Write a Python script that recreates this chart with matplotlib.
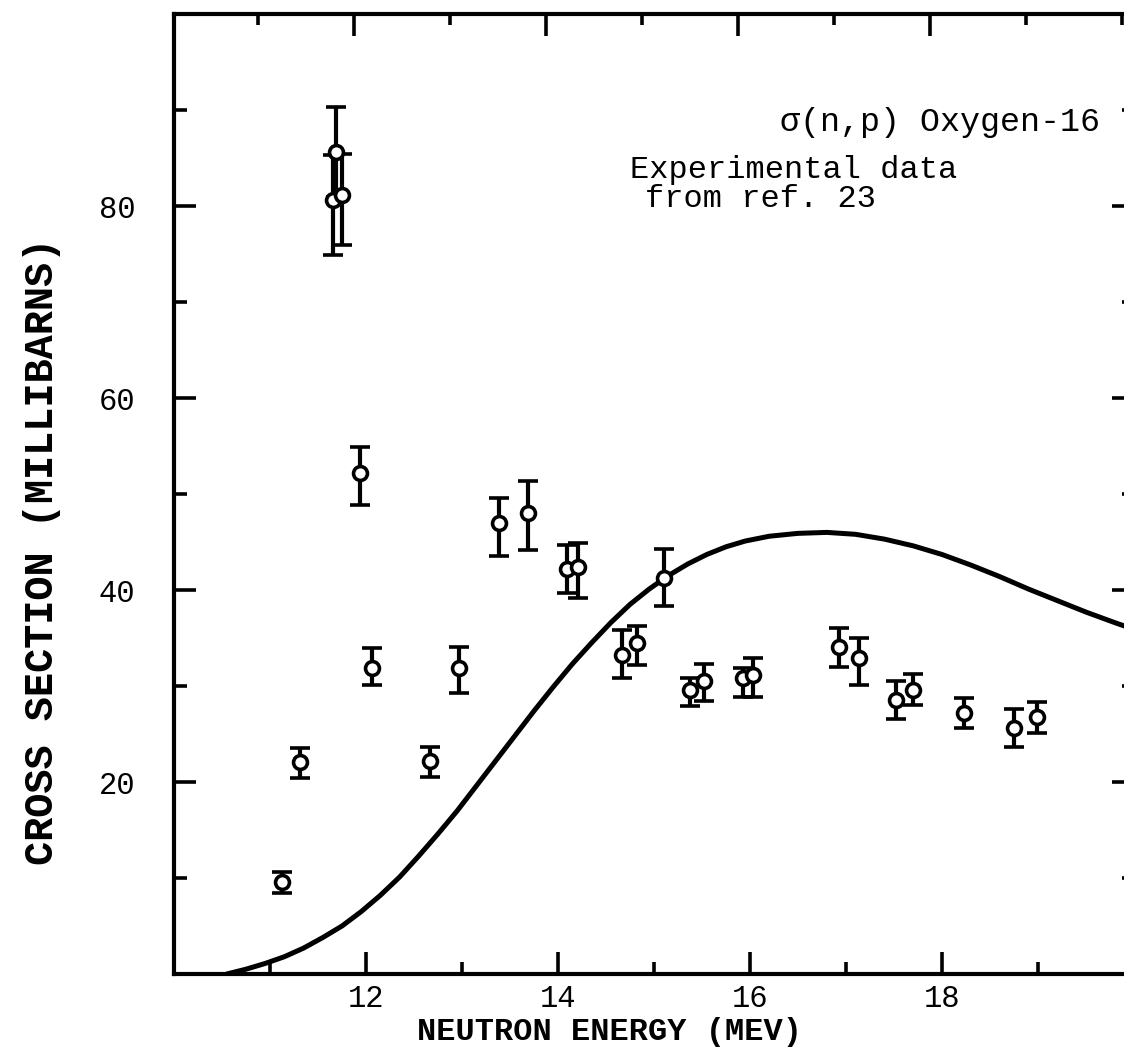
import matplotlib
matplotlib.use("Agg")
import matplotlib.pyplot as plt
from matplotlib.ticker import MultipleLocator, FixedLocator

# experimental points (MeV, mb) with lower / upper error
energy = [11.13, 11.31, 11.66, 11.69, 11.75, 11.94, 12.06, 12.67, 12.97, 13.39,
          13.69, 14.09, 14.21, 14.67, 14.82, 15.10, 15.38, 15.52, 15.93, 16.03,
          16.93, 17.14, 17.52, 17.70, 18.23, 18.75, 18.99]
sigma = [9.6, 22.1, 80.6, 85.6, 81.1, 52.2, 31.9, 22.2, 31.9, 47.0,
         48.0, 42.2, 42.4, 33.2, 34.5, 41.2, 29.6, 30.5, 30.8, 31.1,
         34.1, 32.9, 28.5, 29.6, 27.2, 25.6, 26.8]
err_low = [1.2, 1.7, 5.7, 4.7, 5.2, 3.3, 1.8, 1.7, 2.6, 3.5,
           3.8, 2.5, 3.2, 2.4, 2.3, 2.9, 1.7, 2.1, 1.9, 2.2,
           2.1, 2.8, 1.9, 1.6, 1.6, 2.0, 1.7]
err_high = [1.0, 1.4, 4.7, 4.7, 4.3, 2.7, 2.1, 1.4, 2.2, 2.6,
            3.4, 2.5, 2.5, 2.6, 1.8, 3.1, 1.2, 1.8, 1.1, 1.8,
            1.9, 2.1, 2.0, 1.7, 1.6, 2.0, 1.5]

# calculated curve
curve_e = [10.55, 10.75, 10.95, 11.15, 11.35, 11.55, 11.75, 11.95, 12.15, 12.35,
           12.55, 12.75, 12.95, 13.15, 13.35, 13.55, 13.75, 13.95, 14.15, 14.35,
           14.55, 14.75, 14.95, 15.15, 15.35, 15.55, 15.75, 15.95, 16.2, 16.5,
           16.8, 17.1, 17.4, 17.7, 18.0, 18.3, 18.6, 18.9, 19.2, 19.5, 19.8, 20.0]
curve_s = [0.0, 0.5, 1.1, 1.8, 2.7, 3.8, 5.0, 6.5, 8.2, 10.1,
           12.3, 14.6, 17.0, 19.6, 22.2, 24.8, 27.4, 29.9, 32.3, 34.5,
           36.6, 38.5, 40.1, 41.5, 42.7, 43.7, 44.5, 45.1, 45.6, 45.9,
           46.0, 45.8, 45.3, 44.6, 43.7, 42.6, 41.4, 40.1, 38.9, 37.7, 36.6, 35.9]

xticks = [12, 14, 16, 18]
yticks = [20, 40, 60, 80]

font = "Liberation Mono"

fig = plt.figure(figsize=(11.24, 10.48), dpi=100)
ax = fig.add_axes([174 / 1124, 74 / 1048, 960 / 1124, 960 / 1048])

ax.plot(curve_e, curve_s, color="black", lw=3.6, solid_capstyle="round")
ax.errorbar(energy, sigma, yerr=[err_low, err_high], fmt="o", color="black",
            ecolor="black", elinewidth=3, capsize=7, capthick=3.5,
            markersize=10, markerfacecolor="white", markeredgewidth=2.6,
            zorder=3)

ax.set_xlim(10, 20)
ax.set_ylim(0, 100)
ax.xaxis.set_major_locator(FixedLocator(xticks))
ax.xaxis.set_minor_locator(MultipleLocator(1))
ax.yaxis.set_major_locator(FixedLocator(yticks))
ax.yaxis.set_minor_locator(MultipleLocator(10))
ax.tick_params(which="major", direction="in", length=16, width=2.6,
               right=True, labelsize=22)
ax.tick_params(which="minor", direction="in", length=9, width=2.6, right=True)
for lab in ax.get_xticklabels() + ax.get_yticklabels():
    lab.set_family(font)
ax.tick_params(axis="x", pad=7)
ax.tick_params(axis="y", pad=28)
for sp in ax.spines.values():
    sp.set_linewidth(3)

# top frame ticks are slightly offset in the original
top = ax.twiny()
top.set_xlim(10.12, 20.12)
top.xaxis.set_major_locator(FixedLocator(xticks))
top.xaxis.set_minor_locator(MultipleLocator(1))
top.tick_params(which="major", direction="in", length=16, width=2.6, labeltop=False)
top.tick_params(which="minor", direction="in", length=8, width=2.6)

ax.set_xlabel("NEUTRON ENERGY (MEV)", family=font, fontsize=23,
              fontweight="bold", labelpad=0)
ax.xaxis.set_label_coords(0.454, -0.045)
ax.set_ylabel("CROSS SECTION (MILLIBARNS)", family=font, fontsize=29,
              fontweight="bold")
ax.yaxis.set_label_coords(-0.118, 0.44)

ax.text(19.65, 88.75, "σ(n,p) Oxygen-16", family=font, fontsize=24,
        ha="right", va="center")
ax.text(14.75, 83.7, "Experimental data", family=font, fontsize=23,
        ha="left", va="center")
ax.text(14.91, 80.7, "from ref. 23", family=font, fontsize=23,
        ha="left", va="center")

fig.savefig("out.png", dpi=100)
